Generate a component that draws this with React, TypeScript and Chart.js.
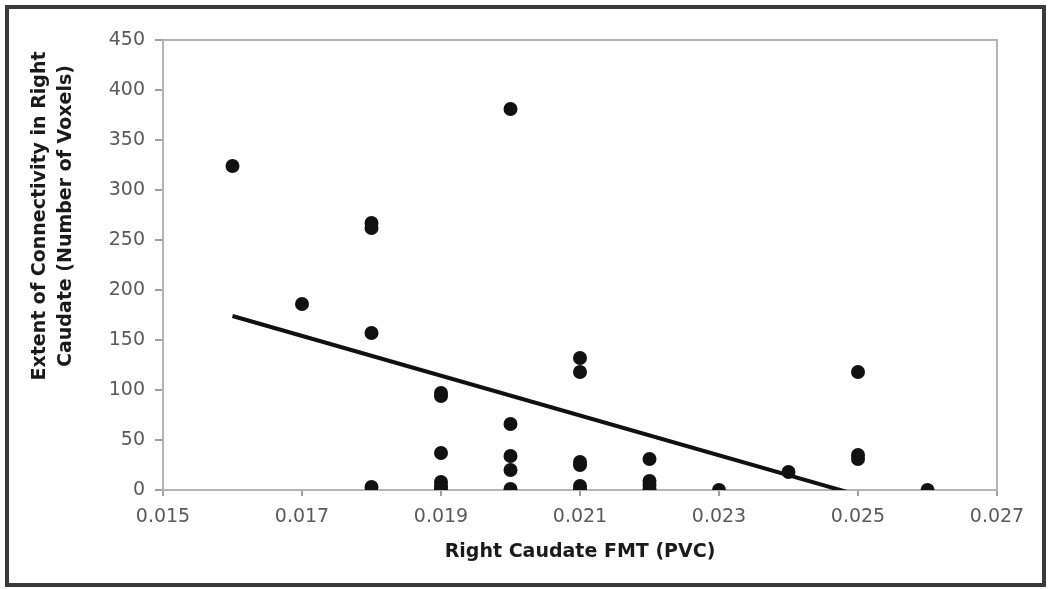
import { useEffect, useRef } from "react";
import { Chart, registerables } from "chart.js";

Chart.register(...registerables);

// Right Caudate FMT (PVC) for each subject
const fmtValues = [
  0.016,
  0.017,
  0.018, 0.018, 0.018, 0.018,
  0.019, 0.019, 0.019, 0.019, 0.019, 0.019,
  0.020, 0.020, 0.020, 0.020, 0.020,
  0.021, 0.021, 0.021, 0.021, 0.021, 0.021,
  0.022, 0.022, 0.022, 0.022,
  0.023,
  0.024,
  0.025, 0.025, 0.025,
  0.026,
];
// Extent of connectivity (number of voxels)
const voxelValues = [
  324,
  186,
  267, 262, 157, 3,
  97, 94, 37, 8, 4, 1,
  381, 66, 34, 20, 1,
  132, 118, 28, 25, 4, 1,
  31, 9, 5, 1,
  0,
  18,
  118, 35, 31,
  0,
];
// Linear trendline end points
const trendX = [0.016, 0.026];
const trendY = [174, -25];

const xTicks = [0.015, 0.017, 0.019, 0.021, 0.023, 0.025, 0.027];
const yTicks = [0, 50, 100, 150, 200, 250, 300, 350, 400, 450];
const xTitle = "Right Caudate FMT (PVC)";
const yTitleLines = ["Extent of Connectivity in Right", "Caudate (Number of Voxels)"];

const FONT = "'DejaVu Sans', Verdana, sans-serif";

export default function App() {
  const ref = useRef<HTMLCanvasElement | null>(null);

  useEffect(() => {
    if (!ref.current) return;
    const framePlugin = {
      id: "plotFrame",
      beforeDatasetsDraw(chart: any) {
        const { ctx, chartArea } = chart;
        ctx.save();
        ctx.strokeStyle = "#b4b4b4";
        ctx.lineWidth = 2;
        ctx.strokeRect(chartArea.left, chartArea.top, chartArea.right - chartArea.left, chartArea.bottom - chartArea.top);
        ctx.restore();
      },
      afterDraw(chart: any) {
        const { ctx } = chart;
        ctx.save();
        ctx.translate(40, 216);
        ctx.rotate(-Math.PI / 2);
        ctx.fillStyle = "#1a1a1a";
        ctx.font = `bold 19px ${FONT}`;
        ctx.textAlign = "center";
        ctx.textBaseline = "middle";
        yTitleLines.forEach((line, i) => ctx.fillText(line, 0, i * 26));
        ctx.restore();
      },
    };

    const chart = new Chart(ref.current, {
      type: "scatter",
      data: {
        datasets: [
          {
            label: "Subjects",
            data: fmtValues.map((x, i) => ({ x, y: voxelValues[i] })),
            backgroundColor: "#111111",
            borderColor: "#111111",
            pointRadius: 7,
            pointHoverRadius: 7,
            borderWidth: 0,
          },
          {
            label: "Linear trend",
            data: trendX.map((x, i) => ({ x, y: trendY[i] })),
            showLine: true,
            borderColor: "#111111",
            borderWidth: 4,
            pointRadius: 0,
            clip: 0,
          } as any,
        ],
      },
      options: {
        responsive: false,
        animation: false,
        devicePixelRatio: 1,
        layout: { padding: { left: 0, top: 40, right: 53, bottom: 0 } },
        plugins: { legend: { display: false }, tooltip: { enabled: false } },
        scales: {
          x: {
            type: "linear",
            min: xTicks[0],
            max: xTicks[xTicks.length - 1],
            afterBuildTicks: (scale: any) => {
              scale.ticks = xTicks.map((v) => ({ value: v }));
            },
            afterFit: (scale: any) => {
              scale.height = 99;
            },
            ticks: {
              callback: (v: any) => Number(v).toFixed(3),
              color: "#5a5a5a",
              font: { family: FONT, size: 19 },
              padding: 10,
              maxRotation: 0,
            },
            grid: { drawOnChartArea: false, drawTicks: true, tickLength: 6, color: "#a0a0a0", lineWidth: 2 },
            border: { display: true, color: "#a0a0a0", width: 2 },
            title: {
              display: true,
              text: xTitle,
              color: "#1a1a1a",
              font: { family: FONT, size: 19, weight: "bold" },
              padding: { top: 4, bottom: 26 },
            },
          },
          y: {
            type: "linear",
            min: yTicks[0],
            max: yTicks[yTicks.length - 1],
            afterBuildTicks: (scale: any) => {
              scale.ticks = yTicks.map((v) => ({ value: v }));
            },
            afterFit: (scale: any) => {
              scale.width = 163;
            },
            ticks: {
              color: "#5a5a5a",
              font: { family: FONT, size: 19 },
              padding: 10,
            },
            grid: { drawOnChartArea: false, drawTicks: true, tickLength: 8, color: "#a0a0a0", lineWidth: 2 },
            border: { display: true, color: "#a0a0a0", width: 2 },
          },
        },
      },
      plugins: [framePlugin],
    });
    return () => chart.destroy();
  }, []);

  return (
    <div style={{ position: "fixed", left: 0, top: 0, width: 1050, height: 589, background: "#ffffff" }}>
      <div
        style={{
          position: "absolute",
          left: 5,
          top: 5,
          width: 1041,
          height: 582,
          border: "4px solid #3a3a3a",
          boxSizing: "border-box",
        }}
      />
      <canvas ref={ref} width={1050} height={589} style={{ position: "absolute", left: 0, top: 0, display: "block" }} />
    </div>
  );
}
